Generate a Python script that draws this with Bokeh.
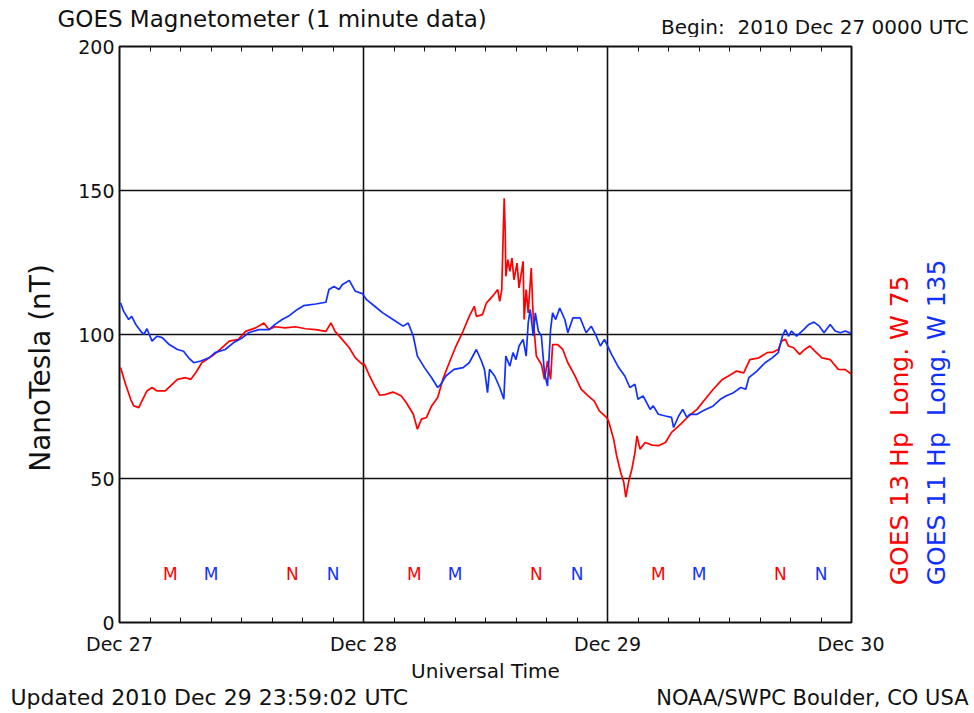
from bokeh.plotting import figure
from bokeh.models import FixedTicker, LinearAxis, Label, Range1d
from bokeh.layouts import column, row
from bokeh.core.properties import value
from bokeh.embed import file_html
from bokeh.resources import INLINE

# ---- data (hours since 2010 Dec 27 00:00 UTC, nanotesla) ----
goes13_hours = [0.1, 0.6, 1.1, 1.4, 1.9, 2.2, 2.7, 3.2, 3.7, 4.5, 5.0, 5.7, 6.5, 7.0, 7.5, 8.1,
                9.1, 9.9, 10.8, 11.7, 12.4, 13.4, 14.2, 14.7, 15.3, 16.3, 17.3, 18.3, 19.3, 20.3,
                20.8, 21.2, 21.9, 22.6, 23.2, 23.9,
                24.1, 24.6, 25.1, 25.6, 26.2, 26.9, 27.7, 28.2, 28.9, 29.3, 29.7, 30.2, 30.7, 31.3,
                31.8, 32.5, 33.1, 33.8, 34.4, 34.9, 35.1, 35.7, 36.1, 36.7, 37.2, 37.4, 37.6, 37.75,
                37.84, 37.94, 38.0, 38.2, 38.4, 38.6, 38.8, 39.1, 39.3, 39.7, 39.8, 40.0, 40.2, 40.5,
                40.7, 41.0, 41.5, 41.8, 42.1, 42.4, 42.6, 43.1, 43.6, 44.1, 44.8, 45.4, 46.1, 46.7,
                47.2, 47.9,
                48.1, 48.6, 48.9, 49.3, 49.6, 49.8, 50.1, 50.4, 50.7, 50.9, 51.2, 51.7, 52.4, 53.0,
                53.7, 54.3, 55.2, 56.0, 56.8, 57.6, 58.4, 59.3, 59.9, 60.7, 61.4, 62.0, 62.9, 63.7,
                64.3, 64.8, 65.1, 65.5, 65.8, 66.3, 66.9, 67.4, 67.9, 68.4, 69.1, 69.9, 70.7, 71.4,
                72.0]
goes13_nt = [88.5, 82.7, 77.5, 75.2, 74.6, 76.9, 80.4, 81.6, 80.4, 80.4, 82.1, 84.4, 85.0, 84.4, 86.7, 90.2,
             92.5, 94.8, 97.7, 98.3, 101.1, 102.3, 104.0, 101.7, 102.7, 102.3, 102.7, 102.0, 101.7, 101.1,
             104.0, 101.1, 98.3, 95.4, 91.9, 89.6,
             89.6, 85.6, 82.1, 78.9, 79.2, 80.0, 78.7, 76.4, 72.3, 67.1, 70.6, 71.2, 75.2, 78.1,
             84.4, 90.8, 96.0, 101.2, 106.3, 109.8, 106.3, 106.9, 111.0, 113.3, 115.6, 111.5, 115.6, 136.3,
             147.3, 135.7, 120.2, 126.0, 121.9, 126.5, 119.0, 124.8, 116.2, 125.4, 105.2, 115.6, 107.5, 123.1,
             105.2, 92.5, 89.6, 84.4, 90.8, 84.4, 96.5, 96.5, 94.8, 90.2, 85.6, 81.0, 78.7, 76.9,
             73.5, 71.2,
             70.0, 63.7, 57.9, 52.1, 48.7, 43.5, 49.2, 53.3, 59.0, 64.8, 60.2, 62.5, 61.6, 61.4,
             62.5, 66.0, 68.9, 71.7, 74.0, 77.5, 81.0, 84.4, 85.6, 87.3, 86.7, 91.3, 91.9, 93.7,
             93.9, 94.8, 97.7, 98.3, 96.0, 95.4, 93.1, 94.8, 96.0, 94.2, 91.9, 91.3, 87.9, 87.8,
             86.2]

goes11_hours = [0.1, 0.4, 0.9, 1.2, 1.6, 2.1, 2.4, 2.7, 3.2, 3.7, 4.2, 4.9, 5.7, 6.3, 6.8, 7.3,
                8.0, 8.8, 9.4, 10.4, 11.2, 12.1, 12.7, 13.7, 14.7, 15.3, 16.0, 16.6, 17.5, 18.1,
                19.3, 20.3, 20.6, 21.1, 21.6, 21.9, 22.6, 23.2, 23.9,
                24.3, 25.1, 25.9, 26.9, 27.9, 28.4, 28.9, 29.3, 30.0, 30.7, 31.3, 31.6, 32.1, 32.9,
                33.8, 34.4, 35.1, 35.6, 35.9, 36.2, 36.4, 36.9, 37.4, 37.8, 38.0, 38.4, 38.7, 39.0,
                39.3, 39.7, 40.0, 40.2, 40.4, 40.7, 40.9, 41.2, 41.5, 41.8, 42.1, 42.4, 42.6, 42.9,
                43.3, 43.8, 44.1, 44.6, 45.3, 45.9, 46.4, 46.9, 47.3, 47.7,
                48.4, 49.1, 49.7, 50.2, 50.7, 51.0, 51.5, 52.2, 52.5, 53.0, 53.7, 54.3, 54.5, 55.0,
                55.4, 55.8, 56.1, 56.8, 57.4, 58.4, 59.1, 59.7, 60.4, 61.1, 61.6, 61.9, 62.7, 63.5,
                64.2, 64.8, 65.2, 65.5, 65.8, 66.1, 66.6, 67.3, 67.8, 68.3, 68.8, 69.3, 69.9, 70.4,
                70.9, 71.4, 72.0]
goes11_nt = [111.0, 108.1, 105.2, 106.3, 103.5, 101.1, 100.0, 102.0, 97.7, 99.4, 98.9, 96.5, 94.8, 94.2, 91.9, 90.2,
             90.8, 91.9, 93.7, 94.8, 97.1, 98.9, 100.6, 101.7, 101.7, 103.5, 105.2, 106.3, 108.7, 110.0,
             110.6, 111.2, 115.6, 116.7, 115.6, 117.3, 118.8, 115.0, 114.2,
             112.1, 109.8, 107.5, 105.2, 102.9, 104.0, 99.4, 92.5, 88.5, 85.0, 81.6, 82.7, 85.6, 87.9,
             88.5, 90.2, 94.8, 90.8, 87.9, 79.8, 87.9, 85.6, 81.6, 77.5, 92.5, 89.0, 93.7, 91.3,
             96.0, 98.3, 92.5, 104.0, 108.7, 99.4, 107.5, 101.2, 99.4, 86.7, 82.1, 101.7, 107.5, 105.2,
             109.2, 105.2, 100.6, 105.8, 105.8, 100.6, 102.9, 99.4, 96.0, 98.3,
             93.1, 88.5, 85.6, 81.6, 82.7, 77.5, 78.7, 74.0, 75.2, 72.3, 71.7, 71.2, 67.7, 71.7,
             74.0, 71.2, 72.3, 72.3, 73.5, 75.2, 77.5, 78.7, 79.8, 81.6, 81.0, 85.0, 87.3, 90.2,
             91.9, 93.7, 99.4, 101.7, 99.4, 101.2, 99.4, 101.7, 103.5, 104.3, 103.0, 100.6, 103.5, 101.2,
             100.6, 101.2, 100.3]

# local midnight (M) / noon (N) markers
goes13_marker_hours = [5, 17, 29, 41, 53, 65]
goes13_marker_text = ["M", "N", "M", "N", "M", "N"]
goes11_marker_hours = [9, 21, 33, 45, 57, 69]
goes11_marker_text = ["M", "N", "M", "N", "M", "N"]
marker_level = [17, 17, 17, 17, 17, 17]

day_ticks = [0, 24, 48, 72]
day_labels = ["Dec 27", "Dec 28", "Dec 29", "Dec 30"]
nt_ticks = [0, 50, 100, 150, 200]

NB = "\u00a0"
title_text = "GOES Magnetometer (1 minute data)"
begin_text = "Begin:" + NB + " 2010 Dec 27 0000 UTC"
xlabel_text = "Universal Time"
ylabel_text = "NanoTesla (nT)"
updated_text = "Updated 2010 Dec 29 23:59:02 UTC"
credit_text = "NOAA/SWPC Boulder, CO USA"
goes13_label = "GOES 13 Hp" + NB + " Long. W 75"
goes11_label = "GOES 11 Hp" + NB + " Long. W 135"

RED = "#ff0000"
BLUE = "#1030ff"
INK = "#111111"
FONT = "DejaVu Sans"

# ---- layout sizes (page pixels) ----
FRAME_L, FRAME_R, FRAME_T, FRAME_B = 119, 851, 46, 624
HEAD_H = 37
TOP_B = FRAME_T - HEAD_H
BOT_B = 33
MAIN_H = FRAME_B + BOT_B - HEAD_H
FOOT_H = 713 - HEAD_H - MAIN_H
LEFT_W = 64
LEFT_B = FRAME_L - LEFT_W
RIGHT_B = 33
MAIN_W = FRAME_R + RIGHT_B - LEFT_W
SIDE_W = 974 - LEFT_W - MAIN_W
SIDE_X0 = LEFT_W + MAIN_W
FOOT_Y0 = HEAD_H + MAIN_H
ROT_SHIFT_LEFT = 32     # empirical offset of rotated, left-anchored labels
ROT_SHIFT_CENTER = 17   # empirical offset of rotated, centred labels


def blank(w, h):
    f = figure(width=w, height=h, output_backend="svg", toolbar_location=None,
               x_range=Range1d(0, w), y_range=Range1d(h, 0),
               x_axis_type=None, y_axis_type=None, min_border=0)
    f.outline_line_color = None
    f.background_fill_color = "white"
    f.border_fill_color = "white"
    return f


def lab(f, x, y, text, size, align="left", angle=0, color=INK):
    f.add_layout(Label(x=x, y=y, text=text, text_font=FONT, text_font_size=size,
                       text_align=align, text_baseline="middle", angle=angle,
                       text_color=color))


# header
head = blank(974, HEAD_H)
lab(head, 57, 18, title_text, "23px")
lab(head, 968, 26, begin_text, "20px", align="right")

# left strip (y-axis title)
left = blank(LEFT_W, MAIN_H)
lab(left, 40, 366 + ROT_SHIFT_CENTER - HEAD_H, ylabel_text, "28px", align="center", angle=1.5708)

# right strip (satellite labels)
side = blank(SIDE_W, MAIN_H)
lab(side, 899 - SIDE_X0, 585 + ROT_SHIFT_LEFT - HEAD_H, goes13_label, "25px", angle=1.5708, color=RED)
lab(side, 936 - SIDE_X0, 585 + ROT_SHIFT_LEFT - HEAD_H, goes11_label, "25px", angle=1.5708, color=BLUE)

# footer
foot = blank(974, FOOT_H)
lab(foot, 485, 670 - FOOT_Y0, xlabel_text, "20px", align="center")
lab(foot, 10, 697 - FOOT_Y0, updated_text, "22px")
lab(foot, 968, 697 - FOOT_Y0, credit_text, "21px", align="right")

# main chart
p = figure(width=MAIN_W, height=MAIN_H, output_backend="svg", toolbar_location=None,
           x_range=Range1d(0, 72), y_range=Range1d(0, 200),
           min_border_left=LEFT_B, min_border_right=RIGHT_B,
           min_border_top=TOP_B, min_border_bottom=BOT_B)
p.background_fill_color = "white"
p.border_fill_color = "white"
p.outline_line_color = INK
p.outline_line_width = 2

minor = [h for h in range(3, 72, 3) if h % 24 != 0]

xa = p.xaxis[0]
xa.ticker = FixedTicker(ticks=day_ticks, minor_ticks=minor)
xa.major_label_overrides = {t: l for t, l in zip(day_ticks, day_labels)}
xa.axis_line_color = None
xa.major_tick_in = 0
xa.major_tick_out = 0
xa.minor_tick_in = 5
xa.minor_tick_out = 0
xa.minor_tick_line_color = INK
xa.major_label_standoff = 10
xa.major_label_text_font = FONT
xa.major_label_text_font_size = "19px"
xa.major_label_text_color = INK

top = LinearAxis(ticker=FixedTicker(ticks=day_ticks, minor_ticks=minor))
top.axis_line_color = None
top.major_tick_in = 0
top.major_tick_out = 0
top.minor_tick_in = 5
top.minor_tick_out = 0
top.minor_tick_line_color = INK
top.major_label_text_font_size = "0px"
top.major_label_standoff = 0
p.add_layout(top, "above")

ya = p.yaxis[0]
ya.ticker = FixedTicker(ticks=nt_ticks)
ya.axis_line_color = None
ya.major_tick_in = 0
ya.major_tick_out = 0
ya.minor_tick_line_color = None
ya.major_label_standoff = 5
ya.major_label_text_font = FONT
ya.major_label_text_font_size = "19px"
ya.major_label_text_color = INK

p.xgrid.ticker = FixedTicker(ticks=[24, 48])
p.ygrid.ticker = FixedTicker(ticks=[50, 100, 150])
for g in (p.xgrid[0], p.ygrid[0]):
    g.grid_line_color = INK
    g.grid_line_width = 1.6
    g.level = "underlay"

p.line(goes13_hours, goes13_nt, line_color=RED, line_width=1.7)
p.line(goes11_hours, goes11_nt, line_color=BLUE, line_width=1.7)

p.text(goes13_marker_hours, marker_level, text=goes13_marker_text, text_color=RED,
       text_font=value(FONT), text_font_size="17px", text_align="center", text_baseline="middle")
p.text(goes11_marker_hours, marker_level, text=goes11_marker_text, text_color=BLUE,
       text_font=value(FONT), text_font_size="17px", text_align="center", text_baseline="middle")

layout = column(head, row(left, p, side, spacing=0), foot, spacing=0)

open("out.html", "w").write(file_html(layout, INLINE))
